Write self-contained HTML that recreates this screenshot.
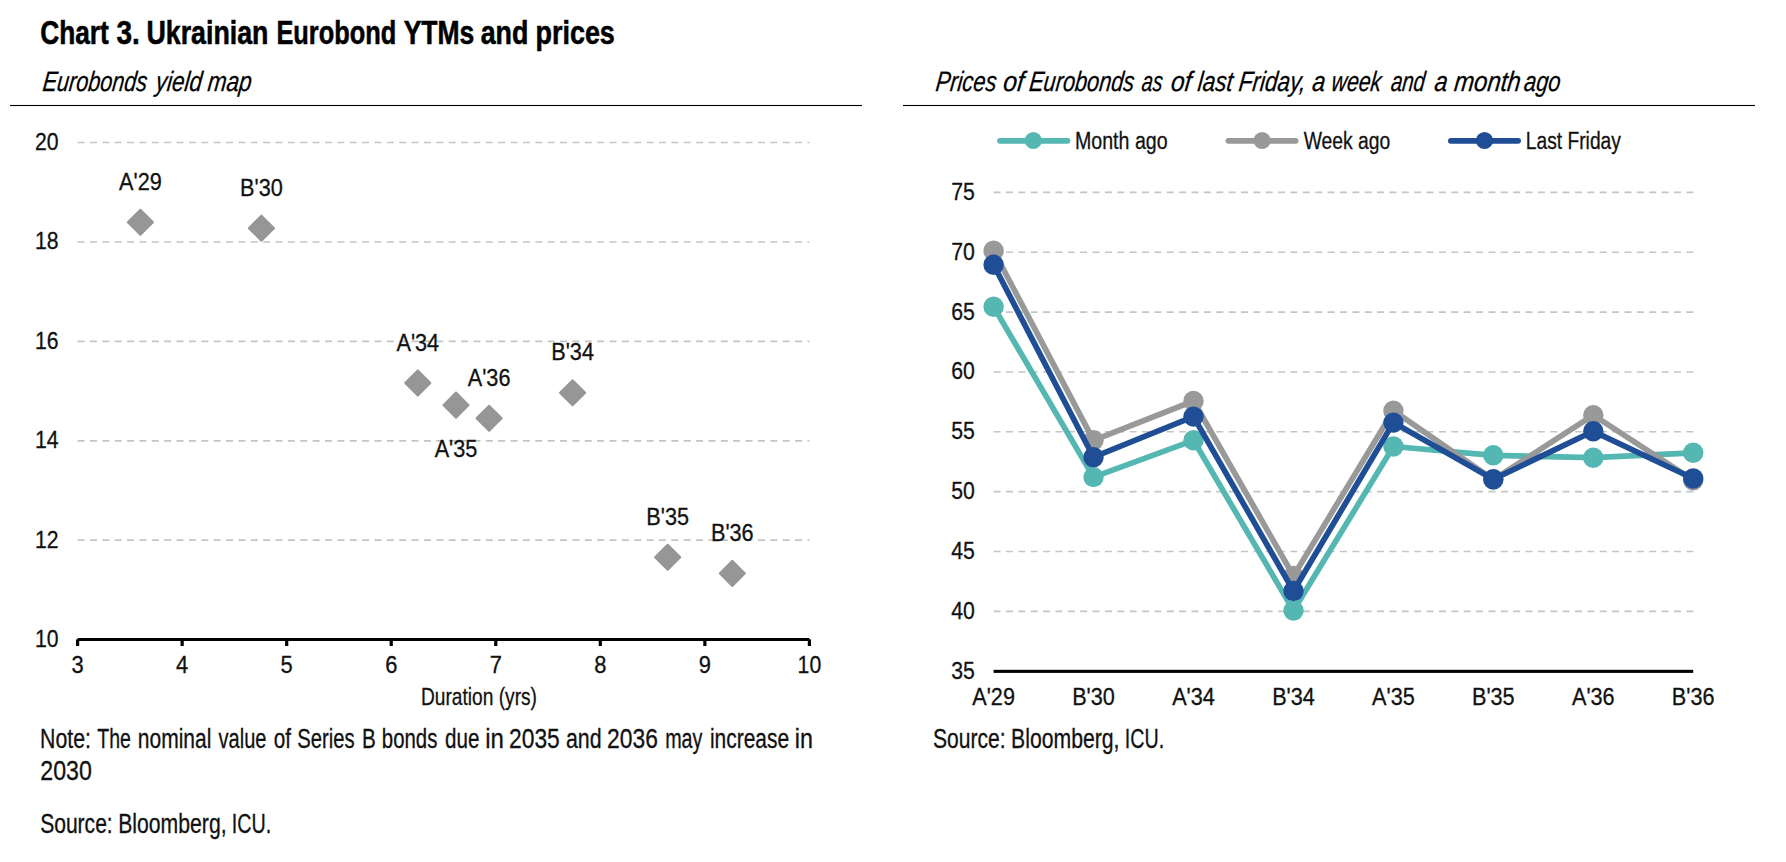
<!DOCTYPE html>
<html lang="en"><head><meta charset="utf-8"><title>Chart 3. Ukrainian Eurobond YTMs and prices</title>
<style>html,body{margin:0;padding:0;background:#fff}svg{display:block}</style></head>
<body>
<svg width="1786" height="862" viewBox="0 0 1786 862" font-family='"Liberation Sans", sans-serif'>
<rect width="1786" height="862" fill="#fff"/>
<text y="43.8" font-size="32.4" font-weight="bold" font-style="normal" fill="#000" stroke="#000" stroke-width="0.55"><tspan x="40.25" textLength="68.54" lengthAdjust="spacingAndGlyphs">Chart</tspan> <tspan x="116.50" textLength="23.32" lengthAdjust="spacingAndGlyphs">3.</tspan> <tspan x="146.45" textLength="121.98" lengthAdjust="spacingAndGlyphs">Ukrainian</tspan> <tspan x="276.40" textLength="119.78" lengthAdjust="spacingAndGlyphs">Eurobond</tspan> <tspan x="403.65" textLength="70.69" lengthAdjust="spacingAndGlyphs">YTMs</tspan> <tspan x="480.70" textLength="47.70" lengthAdjust="spacingAndGlyphs">and</tspan> <tspan x="535.50" textLength="79.33" lengthAdjust="spacingAndGlyphs">prices</tspan></text>
<text y="90.6" font-size="28" font-weight="normal" font-style="italic" fill="#000" stroke="#000" stroke-width="0.25" transform="translate(0,90.6) skewX(-6.6) translate(0,-90.6)"><tspan x="41.90" textLength="104.34" lengthAdjust="spacingAndGlyphs">Eurobonds</tspan> <tspan x="155.10" textLength="46.00" lengthAdjust="spacingAndGlyphs">yield</tspan> <tspan x="207.05" textLength="43.80" lengthAdjust="spacingAndGlyphs">map</tspan></text>
<text y="90.6" font-size="28" font-weight="normal" font-style="italic" fill="#000" stroke="#000" stroke-width="0.25" transform="translate(0,90.6) skewX(-6.6) translate(0,-90.6)"><tspan x="934.90" textLength="60.76" lengthAdjust="spacingAndGlyphs">Prices</tspan> <tspan x="1002.55" textLength="20.59" lengthAdjust="spacingAndGlyphs">of</tspan> <tspan x="1028.40" textLength="104.99" lengthAdjust="spacingAndGlyphs">Eurobonds</tspan> <tspan x="1141.05" textLength="20.69" lengthAdjust="spacingAndGlyphs">as</tspan> <tspan x="1170.25" textLength="20.33" lengthAdjust="spacingAndGlyphs">of</tspan> <tspan x="1197.05" textLength="34.99" lengthAdjust="spacingAndGlyphs">last</tspan> <tspan x="1238.10" textLength="66.87" lengthAdjust="spacingAndGlyphs">Friday,</tspan> <tspan x="1311.45" textLength="12.99" lengthAdjust="spacingAndGlyphs">a</tspan> <tspan x="1330.80" textLength="49.60" lengthAdjust="spacingAndGlyphs">week</tspan> <tspan x="1390.15" textLength="33.98" lengthAdjust="spacingAndGlyphs">and</tspan> <tspan x="1433.85" textLength="12.99" lengthAdjust="spacingAndGlyphs">a</tspan> <tspan x="1453.45" textLength="66.43" lengthAdjust="spacingAndGlyphs">month</tspan> <tspan x="1523.35" textLength="36.35" lengthAdjust="spacingAndGlyphs">ago</tspan></text>
<rect x="10" y="104.95" width="852" height="1.1" fill="#000"/>
<rect x="903" y="104.95" width="852" height="1.1" fill="#000"/>
<line x1="77.6" x2="809.4" y1="142.5" y2="142.5" stroke="#c2c6c5" stroke-width="1.6" stroke-dasharray="7 5.37"/>
<line x1="77.6" x2="809.4" y1="241.95" y2="241.95" stroke="#c2c6c5" stroke-width="1.6" stroke-dasharray="7 5.37"/>
<line x1="77.6" x2="809.4" y1="341.4" y2="341.4" stroke="#c2c6c5" stroke-width="1.6" stroke-dasharray="7 5.37"/>
<line x1="77.6" x2="809.4" y1="440.85" y2="440.85" stroke="#c2c6c5" stroke-width="1.6" stroke-dasharray="7 5.37"/>
<line x1="77.6" x2="809.4" y1="540.15" y2="540.15" stroke="#c2c6c5" stroke-width="1.6" stroke-dasharray="7 5.37"/>
<text x="58.6" y="150.0" font-size="24.6" text-anchor="end" font-weight="normal" font-style="normal" fill="#111" stroke="#111" stroke-width="0.3" textLength="23.6" lengthAdjust="spacingAndGlyphs">20</text>
<text x="58.6" y="249.4" font-size="24.6" text-anchor="end" font-weight="normal" font-style="normal" fill="#111" stroke="#111" stroke-width="0.3" textLength="23.6" lengthAdjust="spacingAndGlyphs">18</text>
<text x="58.6" y="348.9" font-size="24.6" text-anchor="end" font-weight="normal" font-style="normal" fill="#111" stroke="#111" stroke-width="0.3" textLength="23.6" lengthAdjust="spacingAndGlyphs">16</text>
<text x="58.6" y="448.4" font-size="24.6" text-anchor="end" font-weight="normal" font-style="normal" fill="#111" stroke="#111" stroke-width="0.3" textLength="23.6" lengthAdjust="spacingAndGlyphs">14</text>
<text x="58.6" y="547.6" font-size="24.6" text-anchor="end" font-weight="normal" font-style="normal" fill="#111" stroke="#111" stroke-width="0.3" textLength="23.6" lengthAdjust="spacingAndGlyphs">12</text>
<text x="58.6" y="647.3" font-size="24.6" text-anchor="end" font-weight="normal" font-style="normal" fill="#111" stroke="#111" stroke-width="0.3" textLength="23.6" lengthAdjust="spacingAndGlyphs">10</text>
<rect x="77.6" y="638" width="731.8" height="3" fill="#000"/>
<rect x="76.00" y="639.4" width="3.2" height="6.6" fill="#000"/>
<text x="77.6" y="672.8" font-size="24.6" text-anchor="middle" font-weight="normal" font-style="normal" fill="#111" stroke="#111" stroke-width="0.3" textLength="12.2" lengthAdjust="spacingAndGlyphs">3</text>
<rect x="180.54" y="639.4" width="3.2" height="6.6" fill="#000"/>
<text x="182.14" y="672.8" font-size="24.6" text-anchor="middle" font-weight="normal" font-style="normal" fill="#111" stroke="#111" stroke-width="0.3" textLength="12.2" lengthAdjust="spacingAndGlyphs">4</text>
<rect x="285.09" y="639.4" width="3.2" height="6.6" fill="#000"/>
<text x="286.69" y="672.8" font-size="24.6" text-anchor="middle" font-weight="normal" font-style="normal" fill="#111" stroke="#111" stroke-width="0.3" textLength="12.2" lengthAdjust="spacingAndGlyphs">5</text>
<rect x="389.63" y="639.4" width="3.2" height="6.6" fill="#000"/>
<text x="391.23" y="672.8" font-size="24.6" text-anchor="middle" font-weight="normal" font-style="normal" fill="#111" stroke="#111" stroke-width="0.3" textLength="12.2" lengthAdjust="spacingAndGlyphs">6</text>
<rect x="494.17" y="639.4" width="3.2" height="6.6" fill="#000"/>
<text x="495.77" y="672.8" font-size="24.6" text-anchor="middle" font-weight="normal" font-style="normal" fill="#111" stroke="#111" stroke-width="0.3" textLength="12.2" lengthAdjust="spacingAndGlyphs">7</text>
<rect x="598.71" y="639.4" width="3.2" height="6.6" fill="#000"/>
<text x="600.31" y="672.8" font-size="24.6" text-anchor="middle" font-weight="normal" font-style="normal" fill="#111" stroke="#111" stroke-width="0.3" textLength="12.2" lengthAdjust="spacingAndGlyphs">8</text>
<rect x="703.26" y="639.4" width="3.2" height="6.6" fill="#000"/>
<text x="704.86" y="672.8" font-size="24.6" text-anchor="middle" font-weight="normal" font-style="normal" fill="#111" stroke="#111" stroke-width="0.3" textLength="12.2" lengthAdjust="spacingAndGlyphs">9</text>
<rect x="807.80" y="639.4" width="3.2" height="6.6" fill="#000"/>
<text x="809.4" y="672.8" font-size="24.6" text-anchor="middle" font-weight="normal" font-style="normal" fill="#111" stroke="#111" stroke-width="0.3" textLength="23.6" lengthAdjust="spacingAndGlyphs">10</text>
<text x="479" y="704.7" font-size="24.6" text-anchor="middle" font-weight="normal" font-style="normal" fill="#111" stroke="#111" stroke-width="0.3" textLength="116" lengthAdjust="spacingAndGlyphs">Duration (yrs)</text>
<path d="M140.4 209.70000000000002L153.0 222.3L140.4 234.9L127.80000000000001 222.3Z" fill="#969696" stroke="#969696" stroke-width="2" stroke-linejoin="round"/>
<path d="M261.4 215.6L274.0 228.2L261.4 240.79999999999998L248.79999999999998 228.2Z" fill="#969696" stroke="#969696" stroke-width="2" stroke-linejoin="round"/>
<path d="M417.8 370.4L430.40000000000003 383.0L417.8 395.6L405.2 383.0Z" fill="#969696" stroke="#969696" stroke-width="2" stroke-linejoin="round"/>
<path d="M456.0 392.5L468.6 405.1L456.0 417.70000000000005L443.4 405.1Z" fill="#969696" stroke="#969696" stroke-width="2" stroke-linejoin="round"/>
<path d="M489.1 405.7L501.70000000000005 418.3L489.1 430.90000000000003L476.5 418.3Z" fill="#969696" stroke="#969696" stroke-width="2" stroke-linejoin="round"/>
<path d="M572.6 380.2L585.2 392.8L572.6 405.40000000000003L560.0 392.8Z" fill="#969696" stroke="#969696" stroke-width="2" stroke-linejoin="round"/>
<path d="M667.7 544.6999999999999L680.3000000000001 557.3L667.7 569.9L655.1 557.3Z" fill="#969696" stroke="#969696" stroke-width="2" stroke-linejoin="round"/>
<path d="M732.3 560.8L744.9 573.4L732.3 586.0L719.6999999999999 573.4Z" fill="#969696" stroke="#969696" stroke-width="2" stroke-linejoin="round"/>
<text x="140.4" y="189.9" font-size="24.7" text-anchor="middle" font-weight="normal" font-style="normal" fill="#111" stroke="#111" stroke-width="0.3" textLength="42.7" lengthAdjust="spacingAndGlyphs">A'29</text>
<text x="261.4" y="195.8" font-size="24.7" text-anchor="middle" font-weight="normal" font-style="normal" fill="#111" stroke="#111" stroke-width="0.3" textLength="42.7" lengthAdjust="spacingAndGlyphs">B'30</text>
<text x="417.8" y="350.6" font-size="24.7" text-anchor="middle" font-weight="normal" font-style="normal" fill="#111" stroke="#111" stroke-width="0.3" textLength="42.7" lengthAdjust="spacingAndGlyphs">A'34</text>
<text x="456.0" y="456.8" font-size="24.7" text-anchor="middle" font-weight="normal" font-style="normal" fill="#111" stroke="#111" stroke-width="0.3" textLength="42.7" lengthAdjust="spacingAndGlyphs">A'35</text>
<text x="489.1" y="385.9" font-size="24.7" text-anchor="middle" font-weight="normal" font-style="normal" fill="#111" stroke="#111" stroke-width="0.3" textLength="42.7" lengthAdjust="spacingAndGlyphs">A'36</text>
<text x="572.6" y="360.4" font-size="24.7" text-anchor="middle" font-weight="normal" font-style="normal" fill="#111" stroke="#111" stroke-width="0.3" textLength="42.7" lengthAdjust="spacingAndGlyphs">B'34</text>
<text x="667.7" y="524.9" font-size="24.7" text-anchor="middle" font-weight="normal" font-style="normal" fill="#111" stroke="#111" stroke-width="0.3" textLength="42.7" lengthAdjust="spacingAndGlyphs">B'35</text>
<text x="732.3" y="541.0" font-size="24.7" text-anchor="middle" font-weight="normal" font-style="normal" fill="#111" stroke="#111" stroke-width="0.3" textLength="42.7" lengthAdjust="spacingAndGlyphs">B'36</text>
<text y="747.6" font-size="27" font-weight="normal" font-style="normal" fill="#111" stroke="#111" stroke-width="0.3"><tspan x="40.10" textLength="50.94" lengthAdjust="spacingAndGlyphs">Note:</tspan> <tspan x="97.35" textLength="33.61" lengthAdjust="spacingAndGlyphs">The</tspan> <tspan x="137.75" textLength="73.63" lengthAdjust="spacingAndGlyphs">nominal</tspan> <tspan x="218.50" textLength="47.93" lengthAdjust="spacingAndGlyphs">value</tspan> <tspan x="273.75" textLength="17.30" lengthAdjust="spacingAndGlyphs">of</tspan> <tspan x="297.25" textLength="57.33" lengthAdjust="spacingAndGlyphs">Series</tspan> <tspan x="361.90" textLength="13.80" lengthAdjust="spacingAndGlyphs">B</tspan> <tspan x="381.85" textLength="55.56" lengthAdjust="spacingAndGlyphs">bonds</tspan> <tspan x="445.05" textLength="34.43" lengthAdjust="spacingAndGlyphs">due</tspan> <tspan x="485.20" textLength="18.71" lengthAdjust="spacingAndGlyphs">in</tspan> <tspan x="509.00" textLength="50.82" lengthAdjust="spacingAndGlyphs">2035</tspan> <tspan x="565.95" textLength="35.68" lengthAdjust="spacingAndGlyphs">and</tspan> <tspan x="607.10" textLength="50.82" lengthAdjust="spacingAndGlyphs">2036</tspan> <tspan x="665.15" textLength="37.34" lengthAdjust="spacingAndGlyphs">may</tspan> <tspan x="709.95" textLength="79.23" lengthAdjust="spacingAndGlyphs">increase</tspan> <tspan x="794.80" textLength="18.11" lengthAdjust="spacingAndGlyphs">in</tspan></text>
<text y="780.1" font-size="27" font-weight="normal" font-style="normal" fill="#111" stroke="#111" stroke-width="0.3"><tspan x="40.30" textLength="51.58" lengthAdjust="spacingAndGlyphs">2030</tspan></text>
<text y="833" font-size="27" font-weight="normal" font-style="normal" fill="#111" stroke="#111" stroke-width="0.3"><tspan x="40.15" textLength="72.58" lengthAdjust="spacingAndGlyphs">Source:</tspan> <tspan x="118.20" textLength="108.40" lengthAdjust="spacingAndGlyphs">Bloomberg,</tspan> <tspan x="231.85" textLength="39.38" lengthAdjust="spacingAndGlyphs">ICU.</tspan></text>
<line x1="993.6" x2="1693.8" y1="192.4" y2="192.4" stroke="#c2c6c5" stroke-width="1.6" stroke-dasharray="7 5.37"/>
<line x1="993.6" x2="1693.8" y1="252.25" y2="252.25" stroke="#c2c6c5" stroke-width="1.6" stroke-dasharray="7 5.37"/>
<line x1="993.6" x2="1693.8" y1="312.1" y2="312.1" stroke="#c2c6c5" stroke-width="1.6" stroke-dasharray="7 5.37"/>
<line x1="993.6" x2="1693.8" y1="371.95" y2="371.95" stroke="#c2c6c5" stroke-width="1.6" stroke-dasharray="7 5.37"/>
<line x1="993.6" x2="1693.8" y1="431.8" y2="431.8" stroke="#c2c6c5" stroke-width="1.6" stroke-dasharray="7 5.37"/>
<line x1="993.6" x2="1693.8" y1="491.65" y2="491.65" stroke="#c2c6c5" stroke-width="1.6" stroke-dasharray="7 5.37"/>
<line x1="993.6" x2="1693.8" y1="551.5" y2="551.5" stroke="#c2c6c5" stroke-width="1.6" stroke-dasharray="7 5.37"/>
<line x1="993.6" x2="1693.8" y1="611.35" y2="611.35" stroke="#c2c6c5" stroke-width="1.6" stroke-dasharray="7 5.37"/>
<text x="974.8" y="199.9" font-size="24.6" text-anchor="end" font-weight="normal" font-style="normal" fill="#111" stroke="#111" stroke-width="0.3" textLength="23.6" lengthAdjust="spacingAndGlyphs">75</text>
<text x="974.8" y="259.8" font-size="24.6" text-anchor="end" font-weight="normal" font-style="normal" fill="#111" stroke="#111" stroke-width="0.3" textLength="23.6" lengthAdjust="spacingAndGlyphs">70</text>
<text x="974.8" y="319.6" font-size="24.6" text-anchor="end" font-weight="normal" font-style="normal" fill="#111" stroke="#111" stroke-width="0.3" textLength="23.6" lengthAdjust="spacingAndGlyphs">65</text>
<text x="974.8" y="379.4" font-size="24.6" text-anchor="end" font-weight="normal" font-style="normal" fill="#111" stroke="#111" stroke-width="0.3" textLength="23.6" lengthAdjust="spacingAndGlyphs">60</text>
<text x="974.8" y="439.3" font-size="24.6" text-anchor="end" font-weight="normal" font-style="normal" fill="#111" stroke="#111" stroke-width="0.3" textLength="23.6" lengthAdjust="spacingAndGlyphs">55</text>
<text x="974.8" y="499.1" font-size="24.6" text-anchor="end" font-weight="normal" font-style="normal" fill="#111" stroke="#111" stroke-width="0.3" textLength="23.6" lengthAdjust="spacingAndGlyphs">50</text>
<text x="974.8" y="559.0" font-size="24.6" text-anchor="end" font-weight="normal" font-style="normal" fill="#111" stroke="#111" stroke-width="0.3" textLength="23.6" lengthAdjust="spacingAndGlyphs">45</text>
<text x="974.8" y="618.9" font-size="24.6" text-anchor="end" font-weight="normal" font-style="normal" fill="#111" stroke="#111" stroke-width="0.3" textLength="23.6" lengthAdjust="spacingAndGlyphs">40</text>
<text x="974.8" y="678.7" font-size="24.6" text-anchor="end" font-weight="normal" font-style="normal" fill="#111" stroke="#111" stroke-width="0.3" textLength="23.6" lengthAdjust="spacingAndGlyphs">35</text>
<rect x="993.6" y="669.8" width="699.6" height="3.1" fill="#000"/>
<text x="993.6" y="704.9" font-size="24.7" text-anchor="middle" font-weight="normal" font-style="normal" fill="#111" stroke="#111" stroke-width="0.3" textLength="42.7" lengthAdjust="spacingAndGlyphs">A'29</text>
<text x="1093.5" y="704.9" font-size="24.7" text-anchor="middle" font-weight="normal" font-style="normal" fill="#111" stroke="#111" stroke-width="0.3" textLength="42.7" lengthAdjust="spacingAndGlyphs">B'30</text>
<text x="1193.5" y="704.9" font-size="24.7" text-anchor="middle" font-weight="normal" font-style="normal" fill="#111" stroke="#111" stroke-width="0.3" textLength="42.7" lengthAdjust="spacingAndGlyphs">A'34</text>
<text x="1293.5" y="704.9" font-size="24.7" text-anchor="middle" font-weight="normal" font-style="normal" fill="#111" stroke="#111" stroke-width="0.3" textLength="42.7" lengthAdjust="spacingAndGlyphs">B'34</text>
<text x="1393.4" y="704.9" font-size="24.7" text-anchor="middle" font-weight="normal" font-style="normal" fill="#111" stroke="#111" stroke-width="0.3" textLength="42.7" lengthAdjust="spacingAndGlyphs">A'35</text>
<text x="1493.3" y="704.9" font-size="24.7" text-anchor="middle" font-weight="normal" font-style="normal" fill="#111" stroke="#111" stroke-width="0.3" textLength="42.7" lengthAdjust="spacingAndGlyphs">B'35</text>
<text x="1593.3" y="704.9" font-size="24.7" text-anchor="middle" font-weight="normal" font-style="normal" fill="#111" stroke="#111" stroke-width="0.3" textLength="42.7" lengthAdjust="spacingAndGlyphs">A'36</text>
<text x="1693.2" y="704.9" font-size="24.7" text-anchor="middle" font-weight="normal" font-style="normal" fill="#111" stroke="#111" stroke-width="0.3" textLength="42.7" lengthAdjust="spacingAndGlyphs">B'36</text>
<path d="M993.6 306.8L1093.5 477.1L1193.5 440.3L1293.5 610.6L1393.4 446.5L1493.3 455.3L1593.3 457.7L1693.2 452.8" fill="none" stroke="#55b7b2" stroke-width="5.7" stroke-linejoin="round" stroke-linecap="round"/>
<circle cx="993.6" cy="306.8" r="10.2" fill="#55b7b2"/>
<circle cx="1093.5" cy="477.1" r="10.2" fill="#55b7b2"/>
<circle cx="1193.5" cy="440.3" r="10.2" fill="#55b7b2"/>
<circle cx="1293.5" cy="610.6" r="10.2" fill="#55b7b2"/>
<circle cx="1393.4" cy="446.5" r="10.2" fill="#55b7b2"/>
<circle cx="1493.3" cy="455.3" r="10.2" fill="#55b7b2"/>
<circle cx="1593.3" cy="457.7" r="10.2" fill="#55b7b2"/>
<circle cx="1693.2" cy="452.8" r="10.2" fill="#55b7b2"/>
<path d="M993.6 250.7L1093.5 440.3L1193.5 401.0L1293.5 576.0L1393.4 410.7L1493.3 479.6L1593.3 415.2L1693.2 480.2" fill="none" stroke="#999999" stroke-width="5.7" stroke-linejoin="round" stroke-linecap="round"/>
<circle cx="993.6" cy="250.7" r="10.2" fill="#999999"/>
<circle cx="1093.5" cy="440.3" r="10.2" fill="#999999"/>
<circle cx="1193.5" cy="401.0" r="10.2" fill="#999999"/>
<circle cx="1293.5" cy="576.0" r="10.2" fill="#999999"/>
<circle cx="1393.4" cy="410.7" r="10.2" fill="#999999"/>
<circle cx="1493.3" cy="479.6" r="10.2" fill="#999999"/>
<circle cx="1593.3" cy="415.2" r="10.2" fill="#999999"/>
<circle cx="1693.2" cy="480.2" r="10.2" fill="#999999"/>
<path d="M993.6 264.8L1093.5 457.2L1193.5 416.6L1293.5 591.0L1393.4 422.6L1493.3 479.2L1593.3 431.3L1693.2 478.5" fill="none" stroke="#1f4e96" stroke-width="5.7" stroke-linejoin="round" stroke-linecap="round"/>
<circle cx="993.6" cy="264.8" r="10.2" fill="#1f4e96"/>
<circle cx="1093.5" cy="457.2" r="10.2" fill="#1f4e96"/>
<circle cx="1193.5" cy="416.6" r="10.2" fill="#1f4e96"/>
<circle cx="1293.5" cy="591.0" r="10.2" fill="#1f4e96"/>
<circle cx="1393.4" cy="422.6" r="10.2" fill="#1f4e96"/>
<circle cx="1493.3" cy="479.2" r="10.2" fill="#1f4e96"/>
<circle cx="1593.3" cy="431.3" r="10.2" fill="#1f4e96"/>
<circle cx="1693.2" cy="478.5" r="10.2" fill="#1f4e96"/>
<line x1="1000" x2="1067.4" y1="140.8" y2="140.8" stroke="#55b7b2" stroke-width="5.8" stroke-linecap="round"/>
<circle cx="1033.3" cy="140.5" r="8.6" fill="#55b7b2"/>
<text x="1075.0" y="149" font-size="24.7" text-anchor="start" font-weight="normal" font-style="normal" fill="#111" stroke="#111" stroke-width="0.3" textLength="92.6" lengthAdjust="spacingAndGlyphs">Month ago</text>
<line x1="1228.4" x2="1295.6000000000001" y1="140.8" y2="140.8" stroke="#999999" stroke-width="5.8" stroke-linecap="round"/>
<circle cx="1262.1" cy="140.5" r="8.6" fill="#999999"/>
<text x="1303.7" y="149" font-size="24.7" text-anchor="start" font-weight="normal" font-style="normal" fill="#111" stroke="#111" stroke-width="0.3" textLength="86.6" lengthAdjust="spacingAndGlyphs">Week ago</text>
<line x1="1450.9" x2="1518.1000000000001" y1="140.8" y2="140.8" stroke="#1f4e96" stroke-width="5.8" stroke-linecap="round"/>
<circle cx="1484.5" cy="140.5" r="8.6" fill="#1f4e96"/>
<text x="1525.8000000000002" y="149" font-size="24.7" text-anchor="start" font-weight="normal" font-style="normal" fill="#111" stroke="#111" stroke-width="0.3" textLength="95.1" lengthAdjust="spacingAndGlyphs">Last Friday</text>
<text y="748.2" font-size="27" font-weight="normal" font-style="normal" fill="#111" stroke="#111" stroke-width="0.3"><tspan x="933.05" textLength="72.58" lengthAdjust="spacingAndGlyphs">Source:</tspan> <tspan x="1011.10" textLength="108.40" lengthAdjust="spacingAndGlyphs">Bloomberg,</tspan> <tspan x="1124.75" textLength="39.38" lengthAdjust="spacingAndGlyphs">ICU.</tspan></text>
</svg>
</body></html>
